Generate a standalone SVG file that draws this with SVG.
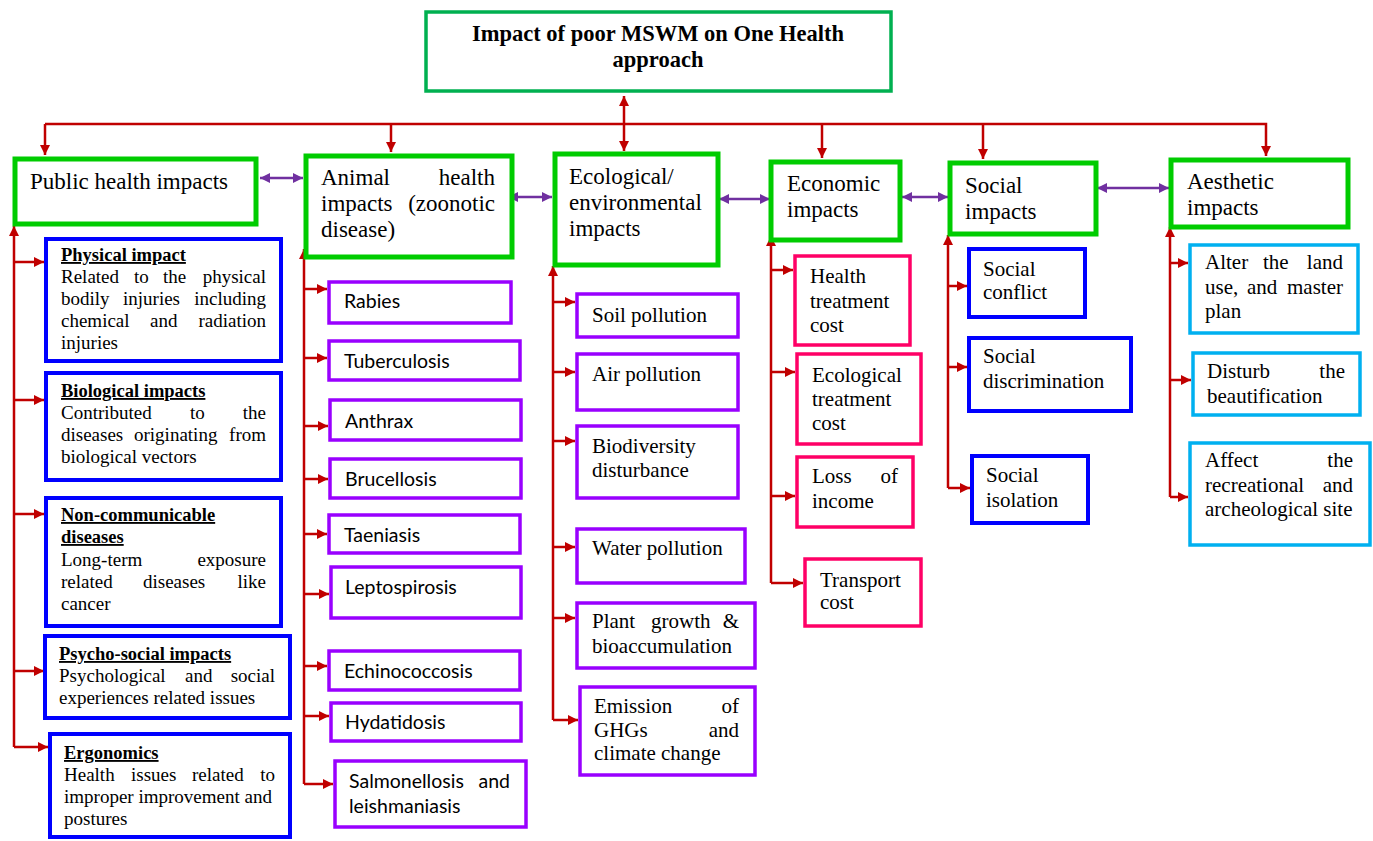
<svg xmlns="http://www.w3.org/2000/svg" width="1373" height="841" viewBox="0 0 1373 841">
<style>
.bg{fill:#ffffff}
.l1{fill:#ffffff;stroke:#00cc00;stroke-width:5}
.top{fill:#ffffff;stroke:#00b050;stroke-width:3.5}
.blue{fill:#ffffff;stroke:#0000ff;stroke-width:4}
.purple{fill:#ffffff;stroke:#9900ff;stroke-width:3.5}
.pink{fill:#ffffff;stroke:#ff0066;stroke-width:3.5}
.sky{fill:#ffffff;stroke:#00b0f0;stroke-width:3.5}
.serif{font-family:"Liberation Serif","Times New Roman",serif;fill:#000}
.sans{font-family:Lato,"Liberation Sans",sans-serif;fill:#000;font-size:19.5px}
.t1{font-size:23px}
.tt{font-size:22.5px;font-weight:bold}
.body{font-size:19px}
.hd{font-size:18.5px;font-weight:bold;text-decoration:underline}
.b20{font-size:21px}
.red{stroke:#c00000;stroke-width:2.5;fill:none}
.pur{stroke:#7030a0;stroke-width:2.5;fill:none}
</style>
<defs>
<marker id="ra" markerUnits="userSpaceOnUse" markerWidth="11" markerHeight="11" refX="10" refY="5" orient="auto-start-reverse"><path d="M0,0 L10,5 L0,10 z" fill="#c00000"/></marker>
<marker id="pa" markerUnits="userSpaceOnUse" markerWidth="11" markerHeight="11" refX="10" refY="5" orient="auto-start-reverse"><path d="M0,0 L10,5 L0,10 z" fill="#7030a0"/></marker>
</defs>
<rect class="bg" x="0" y="0" width="1373" height="841"/>

<g id="connectors">
<line class="red" x1="624" y1="96" x2="624" y2="151" marker-start="url(#ra)" marker-end="url(#ra)"/>
<polyline class="red" points="45,124 1266,124 1266,156" marker-end="url(#ra)"/>
<line class="red" x1="45" y1="124" x2="45" y2="155" marker-end="url(#ra)"/>
<line class="red" x1="391" y1="124" x2="391" y2="152" marker-end="url(#ra)"/>
<line class="red" x1="822" y1="124" x2="822" y2="158" marker-end="url(#ra)"/>
<line class="red" x1="983" y1="124" x2="983" y2="159" marker-end="url(#ra)"/>
<line class="pur" x1="260" y1="178" x2="303" y2="178" marker-start="url(#pa)" marker-end="url(#pa)"/>
<line class="pur" x1="508" y1="197" x2="552" y2="197" marker-start="url(#pa)" marker-end="url(#pa)"/>
<line class="pur" x1="719" y1="199" x2="770" y2="199" marker-start="url(#pa)" marker-end="url(#pa)"/>
<line class="pur" x1="902" y1="197" x2="948" y2="197" marker-start="url(#pa)" marker-end="url(#pa)"/>
<line class="pur" x1="1097" y1="188" x2="1169" y2="188" marker-start="url(#pa)" marker-end="url(#pa)"/>
<line class="red" x1="14" y1="747" x2="14" y2="226" marker-end="url(#ra)"/>
<polyline class="red" points="14,262 44,262" marker-end="url(#ra)"/>
<polyline class="red" points="14,400 44,400" marker-end="url(#ra)"/>
<polyline class="red" points="14,514 44,514" marker-end="url(#ra)"/>
<polyline class="red" points="14,671 44,671" marker-end="url(#ra)"/>
<polyline class="red" points="14,747 48,747" marker-end="url(#ra)"/>
<line class="red" x1="304" y1="784" x2="304" y2="249" marker-end="url(#ra)"/>
<polyline class="red" points="304,289 327,289" marker-end="url(#ra)"/>
<polyline class="red" points="304,358 327,358" marker-end="url(#ra)"/>
<polyline class="red" points="304,426 328,426" marker-end="url(#ra)"/>
<polyline class="red" points="304,479 328,479" marker-end="url(#ra)"/>
<polyline class="red" points="304,534 327,534" marker-end="url(#ra)"/>
<polyline class="red" points="304,594 329,594" marker-end="url(#ra)"/>
<polyline class="red" points="304,666 327,666" marker-end="url(#ra)"/>
<polyline class="red" points="304,716 329,716" marker-end="url(#ra)"/>
<polyline class="red" points="304,784 333,784" marker-end="url(#ra)"/>
<line class="red" x1="553" y1="720" x2="553" y2="266" marker-end="url(#ra)"/>
<polyline class="red" points="553,302 575,302" marker-end="url(#ra)"/>
<polyline class="red" points="553,372 575,372" marker-end="url(#ra)"/>
<polyline class="red" points="553,441 575,441" marker-end="url(#ra)"/>
<polyline class="red" points="553,547 575,547" marker-end="url(#ra)"/>
<polyline class="red" points="553,618 575,618" marker-end="url(#ra)"/>
<polyline class="red" points="553,720 578,720" marker-end="url(#ra)"/>
<line class="red" x1="771" y1="583" x2="771" y2="236" marker-end="url(#ra)"/>
<polyline class="red" points="771,270 793,270" marker-end="url(#ra)"/>
<polyline class="red" points="771,372 795,372" marker-end="url(#ra)"/>
<polyline class="red" points="771,496 795,496" marker-end="url(#ra)"/>
<polyline class="red" points="771,583 803,583" marker-end="url(#ra)"/>
<line class="red" x1="948" y1="488" x2="948" y2="235" marker-end="url(#ra)"/>
<polyline class="red" points="948,286 967,286" marker-end="url(#ra)"/>
<polyline class="red" points="948,367 967,367" marker-end="url(#ra)"/>
<polyline class="red" points="948,488 970,488" marker-end="url(#ra)"/>
<line class="red" x1="1170" y1="497" x2="1170" y2="227" marker-end="url(#ra)"/>
<polyline class="red" points="1170,263 1188,263" marker-end="url(#ra)"/>
<polyline class="red" points="1170,380 1191,380" marker-end="url(#ra)"/>
<polyline class="red" points="1170,497 1188,497" marker-end="url(#ra)"/>
</g>

<g id="n-top">
<rect class="top" x="426" y="12" width="465" height="79"/>
<text class="serif tt" x="658" y="41" text-anchor="middle">Impact of poor MSWM on One Health</text>
<text class="serif tt" x="658" y="67" text-anchor="middle">approach</text>
</g>

<g id="n-public">
<rect class="l1" x="15" y="159" width="241" height="65"/>
<text class="serif t1" x="30" y="189">Public health impacts</text>
</g>
<g id="n-animal">
<rect class="l1" x="306" y="156" width="206" height="101"/>
<text class="serif t1" y="185"><tspan x="321">Animal</tspan><tspan x="495" text-anchor="end">health</tspan></text>
<text class="serif t1" y="211"><tspan x="321">impacts</tspan><tspan x="495" text-anchor="end">(zoonotic</tspan></text>
<text class="serif t1" x="321" y="237">disease)</text>
</g>
<g id="n-eco">
<rect class="l1" x="555" y="154" width="163" height="111"/>
<text class="serif t1" x="569" y="184">Ecological/</text>
<text class="serif t1" x="569" y="210">environmental</text>
<text class="serif t1" x="569" y="236">impacts</text>
</g>
<g id="n-econ">
<rect class="l1" x="771" y="162" width="129" height="78"/>
<text class="serif t1" x="787" y="191">Economic</text>
<text class="serif t1" x="787" y="217">impacts</text>
</g>
<g id="n-social">
<rect class="l1" x="950" y="163" width="146" height="71"/>
<text class="serif t1" x="965" y="193">Social</text>
<text class="serif t1" x="965" y="219">impacts</text>
</g>
<g id="n-aesthetic">
<rect class="l1" x="1171" y="160" width="177" height="67"/>
<text class="serif t1" x="1187" y="189">Aesthetic</text>
<text class="serif t1" x="1187" y="215">impacts</text>
</g>

<g id="n-physical">
<rect class="blue" x="46" y="239" width="235" height="122"/>
<text class="serif hd" x="61" y="261">Physical impact</text>
<text class="serif body" y="283"><tspan x="61">Related</tspan><tspan x="134">to</tspan><tspan x="163">the</tspan><tspan x="266" text-anchor="end">physical</tspan></text>
<text class="serif body" y="305"><tspan x="61">bodily</tspan><tspan x="123">injuries</tspan><tspan x="266" text-anchor="end">including</tspan></text>
<text class="serif body" y="327"><tspan x="61">chemical</tspan><tspan x="150">and</tspan><tspan x="266" text-anchor="end">radiation</tspan></text>
<text class="serif body" x="61" y="349">injuries</text>
</g>
<g id="n-biological">
<rect class="blue" x="46" y="373" width="235" height="107"/>
<text class="serif hd" x="61" y="397">Biological impacts</text>
<text class="serif body" y="419"><tspan x="61">Contributed</tspan><tspan x="190">to</tspan><tspan x="266" text-anchor="end">the</tspan></text>
<text class="serif body" y="441"><tspan x="61">diseases</tspan><tspan x="134">originating</tspan><tspan x="266" text-anchor="end">from</tspan></text>
<text class="serif body" x="61" y="463">biological vectors</text>
</g>
<g id="n-noncomm">
<rect class="blue" x="46" y="498" width="235" height="128"/>
<text class="serif hd" x="61" y="521">Non-communicable</text>
<text class="serif hd" x="61" y="543">diseases</text>
<text class="serif body" y="566"><tspan x="61">Long-term</tspan><tspan x="266" text-anchor="end">exposure</tspan></text>
<text class="serif body" y="588"><tspan x="61">related</tspan><tspan x="143">diseases</tspan><tspan x="266" text-anchor="end">like</tspan></text>
<text class="serif body" x="61" y="610">cancer</text>
</g>
<g id="n-psycho">
<rect class="blue" x="45" y="636" width="245" height="82"/>
<text class="serif hd" x="59" y="660">Psycho-social impacts</text>
<text class="serif body" y="682"><tspan x="59">Psychological</tspan><tspan x="185">and</tspan><tspan x="275" text-anchor="end">social</tspan></text>
<text class="serif body" x="59" y="704">experiences related issues</text>
</g>
<g id="n-ergonomics">
<rect class="blue" x="50" y="734" width="240" height="103"/>
<text class="serif hd" x="64" y="759">Ergonomics</text>
<text class="serif body" y="781"><tspan x="64">Health</tspan><tspan x="131">issues</tspan><tspan x="192">related</tspan><tspan x="275" text-anchor="end">to</tspan></text>
<text class="serif body" x="64" y="803">improper improvement and</text>
<text class="serif body" x="64" y="825">postures</text>
</g>

<g id="n-rabies"><rect class="purple" x="329" y="282" width="182" height="41"/><text class="sans" x="344" y="308">Rabies</text></g>
<g id="n-tb"><rect class="purple" x="329" y="341" width="191" height="39"/><text class="sans" x="344" y="368">Tuberculosis</text></g>
<g id="n-anthrax"><rect class="purple" x="330" y="400" width="191" height="40"/><text class="sans" x="345" y="428">Anthrax</text></g>
<g id="n-brucellosis"><rect class="purple" x="330" y="459" width="191" height="39"/><text class="sans" x="345" y="486">Brucellosis</text></g>
<g id="n-taeniasis"><rect class="purple" x="329" y="515" width="191" height="38"/><text class="sans" x="344" y="542">Taeniasis</text></g>
<g id="n-lepto"><rect class="purple" x="331" y="567" width="190" height="51"/><text class="sans" x="345" y="594">Leptospirosis</text></g>
<g id="n-echino"><rect class="purple" x="329" y="651" width="191" height="39"/><text class="sans" x="344" y="678">Echinococcosis</text></g>
<g id="n-hydatid"><rect class="purple" x="331" y="703" width="190" height="38"/><text class="sans" x="345" y="729">Hydatidosis</text></g>
<g id="n-salmon"><rect class="purple" x="335" y="761" width="191" height="66"/>
<text class="sans" y="788"><tspan x="349">Salmonellosis</tspan><tspan x="510" text-anchor="end">and</tspan></text>
<text class="sans" x="349" y="813">leishmaniasis</text></g>

<g id="n-soil"><rect class="purple" x="577" y="294" width="161" height="43"/><text class="serif b20" x="592" y="322">Soil pollution</text></g>
<g id="n-air"><rect class="purple" x="577" y="354" width="161" height="56"/><text class="serif b20" x="592" y="381">Air pollution</text></g>
<g id="n-biodiv"><rect class="purple" x="577" y="426" width="161" height="72"/><text class="serif b20" x="592" y="453">Biodiversity</text><text class="serif b20" x="592" y="477">disturbance</text></g>
<g id="n-water"><rect class="purple" x="577" y="529" width="168" height="54"/><text class="serif b20" x="592" y="555">Water pollution</text></g>
<g id="n-plant"><rect class="purple" x="577" y="603" width="178" height="65"/>
<text class="serif b20" y="628"><tspan x="592">Plant</tspan><tspan x="651">growth</tspan><tspan x="739" text-anchor="end">&amp;</tspan></text>
<text class="serif b20" x="592" y="653">bioaccumulation</text></g>
<g id="n-emission"><rect class="purple" x="580" y="687" width="175" height="88"/>
<text class="serif b20" y="713"><tspan x="594">Emission</tspan><tspan x="739" text-anchor="end">of</tspan></text>
<text class="serif b20" y="737"><tspan x="594">GHGs</tspan><tspan x="739" text-anchor="end">and</tspan></text>
<text class="serif b20" x="594" y="760">climate change</text></g>

<g id="n-health-cost"><rect class="pink" x="795" y="256" width="115" height="89"/>
<text class="serif b20" x="810" y="283">Health</text><text class="serif b20" x="810" y="308">treatment</text><text class="serif b20" x="810" y="332">cost</text></g>
<g id="n-eco-cost"><rect class="pink" x="797" y="354" width="124" height="90"/>
<text class="serif b20" x="812" y="382">Ecological</text><text class="serif b20" x="812" y="406">treatment</text><text class="serif b20" x="812" y="430">cost</text></g>
<g id="n-income"><rect class="pink" x="797" y="457" width="116" height="70"/>
<text class="serif b20" y="483"><tspan x="812">Loss</tspan><tspan x="898" text-anchor="end">of</tspan></text>
<text class="serif b20" x="812" y="508">income</text></g>
<g id="n-transport"><rect class="pink" x="805" y="559" width="116" height="67"/>
<text class="serif b20" x="820" y="587">Transport</text><text class="serif b20" x="820" y="609">cost</text></g>

<g id="n-conflict"><rect class="blue" x="969" y="249" width="116" height="68"/>
<text class="serif b20" x="983" y="276">Social</text><text class="serif b20" x="983" y="299">conflict</text></g>
<g id="n-discrim"><rect class="blue" x="969" y="338" width="162" height="73"/>
<text class="serif b20" x="983" y="363">Social</text><text class="serif b20" x="983" y="388">discrimination</text></g>
<g id="n-isolation"><rect class="blue" x="972" y="456" width="116" height="67"/>
<text class="serif b20" x="986" y="482">Social</text><text class="serif b20" x="986" y="507">isolation</text></g>

<g id="n-alter"><rect class="sky" x="1190" y="245" width="168" height="88"/>
<text class="serif b20" y="269"><tspan x="1205">Alter</tspan><tspan x="1263">the</tspan><tspan x="1343" text-anchor="end">land</tspan></text>
<text class="serif b20" y="294"><tspan x="1205">use,</tspan><tspan x="1247">and</tspan><tspan x="1343" text-anchor="end">master</tspan></text>
<text class="serif b20" x="1205" y="318">plan</text></g>
<g id="n-disturb"><rect class="sky" x="1193" y="353" width="167" height="62"/>
<text class="serif b20" y="378"><tspan x="1207">Disturb</tspan><tspan x="1345" text-anchor="end">the</tspan></text>
<text class="serif b20" x="1207" y="403">beautification</text></g>
<g id="n-affect"><rect class="sky" x="1190" y="443" width="180" height="102"/>
<text class="serif b20" y="467"><tspan x="1205">Affect</tspan><tspan x="1353" text-anchor="end">the</tspan></text>
<text class="serif b20" y="492"><tspan x="1205">recreational</tspan><tspan x="1353" text-anchor="end">and</tspan></text>
<text class="serif b20" x="1205" y="516">archeological site</text></g>
</svg>
